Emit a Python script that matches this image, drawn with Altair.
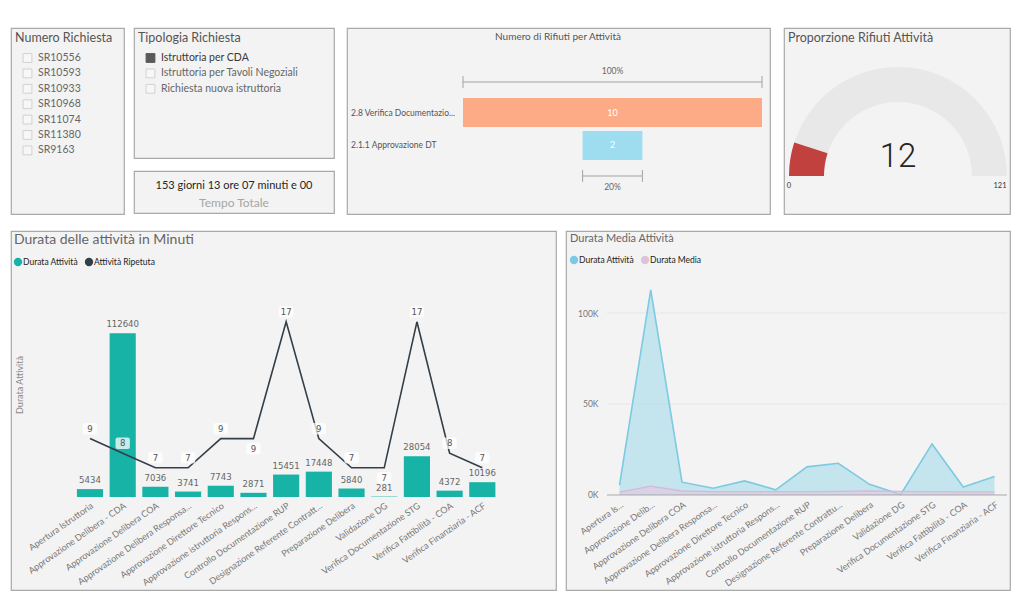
import math
import altair as alt
import pandas as pd

# ---------------- data ----------------
numero_richiesta = ["SR10556", "SR10593", "SR10933", "SR10968", "SR11074", "SR11380", "SR9163"]
tipologia = ["Istruttoria per CDA", "Istruttoria per Tavoli Negoziali", "Richiesta nuova istruttoria"]
tipologia_sel = [True, False, False]
tempo_totale = "153 giorni 13 ore 07 minuti e 00"
tempo_label = "Tempo Totale"

funnel_cat = ["2.8 Verifica Documentazio...", "2.1.1 Approvazione DT"]
funnel_val = [10, 2]
funnel_col = ["#fdaa86", "#9edcf0"]

gauge_val = 12
gauge_max = 121

activities = [
    "Apertura Istruttoria", "Approvazione Delibera - CDA", "Approvazione Delibera COA",
    "Approvazione Delibera Responsa...", "Approvazione Direttore Tecnico",
    "Approvazione istruttoria Respons...", "Controllo Documentazione RUP",
    "Designazione Referente Contratt...", "Preparazione Delibera", "Validazione DG",
    "Verifica Documentazione STG", "Verifica Fattibilità - COA", "Verifica Finanziaria - ACF",
]
activities_short = [
    "Apertura Is...", "Approvazione Delib...", "Approvazione Delibera COA",
    "Approvazione Delibera Responsa...", "Approvazione Direttore Tecnico",
    "Approvazione istruttoria Respons...", "Controllo Documentazione RUP",
    "Designazione Referente Contrattu...", "Preparazione Delibera", "Validazione DG",
    "Verifica Documentazione STG", "Verifica Fattibilità - COA", "Verifica Finanziaria - ACF",
]
durata = [5434, 112640, 7036, 3741, 7743, 2871, 15451, 17448, 5840, 281, 28054, 4372, 10196]
ripetuta = [9, 8, 7, 7, 9, 9, 17, 9, 7, 7, 17, 8, 7]
durata_media = [1600, 4900, 2200, 1800, 1800, 1800, 1900, 2000, 2300, 2000, 1800, 1700, 1700]
labels_below = ["Approvazione istruttoria Respons...", "Validazione DG"]

legend5 = ["Durata Attività", "Attività Ripetuta"]
legend5_col = ["#17b3a6", "#333f48"]
legend6 = ["Durata Attività", "Durata Media"]
legend6_col = ["#7ccae2", "#dcc3dc"]

# ---------------- style ----------------
UI = "Segoe UI, Lato, sans-serif"
NUM = "DIN, DejaVu Sans Condensed, Roboto Condensed, Roboto, sans-serif"
VIEWBG = alt.ViewBackground(fill="#f3f3f3", stroke="#a9a9a9", strokeWidth=1.2)
PILL = ("M -0.85 -0.95 H 0.85 Q 1.2 -0.95 1.2 -0.6 V 0.6 Q 1.2 0.95 0.85 0.95 "
        "H -0.85 Q -1.2 0.95 -1.2 0.6 V -0.6 Q -1.2 -0.95 -0.85 -0.95 Z")


def txt(s, x, y, size, color="#555", align="left", font=UI, weight="normal", angle=None):
    kw = dict(align=align, baseline="middle", fontSize=size, color=color, font=font, fontWeight=weight)
    if angle is not None:
        kw["angle"] = angle
    return alt.Chart(pd.DataFrame({"t": [s]})).mark_text(**kw).encode(
        x=alt.value(x), y=alt.value(y), text="t:N")


STEP = 15.4


def list_scale(h, first=30):
    return alt.Scale(domain=[-first / STEP, (h - first) / STEP], reverse=True, nice=False, zero=False)


def slicer(title, items, sel, w, h):
    df = pd.DataFrame({"item": items, "idx": list(range(len(items))), "sel": sel})
    base = alt.Chart(df).encode(y=alt.Y("idx:Q", scale=list_scale(h), axis=None))
    boxes = base.mark_square(size=78, strokeWidth=1).encode(
        x=alt.value(16.5),
        fill=alt.condition("datum.sel", alt.value("#1a1a1a"), alt.value("#f9f9f9")),
        stroke=alt.condition("datum.sel", alt.value("#1a1a1a"), alt.value("#c4c4c4")),
    )
    labels = base.mark_text(align="left", baseline="middle", fontSize=10.5, font=UI).encode(
        x=alt.value(27), text="item:N",
        color=alt.condition("datum.sel", alt.value("#3a3a3a"), alt.value("#666")),
    )
    return alt.layer(txt(title, 4, 10, 12.5, "#555"), boxes, labels).properties(
        width=w, height=h, view=VIEWBG)


# Panel 1 & 2
p1 = slicer("Numero Richiesta", numero_richiesta, [False] * len(numero_richiesta), 113, 186)
p2 = slicer("Tipologia Richiesta", tipologia, tipologia_sel, 200, 130)
card = alt.layer(
    txt(tempo_totale, 100, 15, 11, "#252525", "center"),
    txt(tempo_label, 100, 32, 12, "#a6a6a6", "center"),
).properties(width=200, height=42, view=VIEWBG)

# Panel 3: funnel
fdf = pd.DataFrame({"cat": funnel_cat, "val": funnel_val, "col": funnel_col,
                    "idx": list(range(len(funnel_cat)))})
fdf["lo"] = -fdf["val"] / 2
fdf["hi"] = fdf["val"] / 2
fdf["b0"] = fdf["idx"] - 0.44
fdf["b1"] = fdf["idx"] + 0.44
fdf["mid"] = 0.0
fx = alt.Scale(domain=[-8.88, 5.268], nice=False, zero=False)
fy = alt.Scale(domain=[-2.561, 3.076], reverse=True, nice=False, zero=False)
v0, vl, last = funnel_val[0], funnel_val[-1], len(funnel_val) - 1
br = pd.DataFrame({
    "lo": [-v0 / 2, -vl / 2], "hi": [v0 / 2, vl / 2],
    "y": [-0.924, last + 0.924], "ty": [-1.258, last + 1.258],
    "mid": [0.0, 0.0],
    "pct": ["100%", f"{round(vl / v0 * 100)}%"],
})
fbars = alt.Chart(fdf).mark_bar().encode(
    x=alt.X("lo:Q", scale=fx, axis=None), x2="hi:Q",
    y=alt.Y("b0:Q", scale=fy, axis=None), y2="b1:Q",
    color=alt.Color("col:N", scale=None))
fvals = alt.Chart(fdf).mark_text(color="white", fontSize=9, font=UI).encode(
    x=alt.X("mid:Q", scale=fx, axis=None), y=alt.Y("idx:Q", scale=fy, axis=None), text="val:Q")
fcats = alt.Chart(fdf).mark_text(align="left", fontSize=8.5, color="#555", font=UI).encode(
    x=alt.value(4), y=alt.Y("idx:Q", scale=fy, axis=None), text="cat:N")
brb = alt.Chart(br).transform_calculate(t0="datum.y - 0.18", t1="datum.y + 0.18")
bh = brb.mark_rule(color="#a3a3a3", strokeWidth=1).encode(
    x=alt.X("lo:Q", scale=fx, axis=None), x2="hi:Q", y=alt.Y("y:Q", scale=fy, axis=None))
bt0 = brb.mark_rule(color="#a3a3a3", strokeWidth=1).encode(
    x=alt.X("lo:Q", scale=fx, axis=None), y=alt.Y("t0:Q", scale=fy, axis=None), y2="t1:Q")
bt1 = brb.mark_rule(color="#a3a3a3", strokeWidth=1).encode(
    x=alt.X("hi:Q", scale=fx, axis=None), y=alt.Y("t0:Q", scale=fy, axis=None), y2="t1:Q")
bpct = brb.mark_text(fontSize=8.5, color="#666", font=UI).encode(
    x=alt.X("mid:Q", scale=fx, axis=None), y=alt.Y("ty:Q", scale=fy, axis=None), text="pct:N")
p3 = alt.layer(
    txt("Numero di Rifiuti per Attività", 211, 9, 10, "#555", "center"),
    fbars, fvals, fcats, bh, bt0, bt1, bpct,
).properties(width=423, height=186, view=VIEWBG)

# Panel 4: gauge
gdf = pd.DataFrame({"start": [0, 0], "end": [gauge_max, gauge_val], "col": ["#e8e8e8", "#c0413e"]})
tsc = alt.Scale(domain=[0, gauge_max], range=[1.5 * math.pi, 2.5 * math.pi])
garc = alt.Chart(gdf).mark_arc(radius=109, radius2=74).encode(
    theta=alt.Theta("start:Q", stack=None, scale=tsc), theta2="end:Q",
    x=alt.value(114), y=alt.value(148), color=alt.Color("col:N", scale=None))
p4 = alt.layer(
    txt("Proporzione Rifiuti Attività", 4, 10, 12.5, "#555"),
    garc,
    txt(str(gauge_val), 114, 129, 33, "#252525", "center", "Roboto", 300),
    txt("0", 5, 158, 7.5, "#333", "center"),
    txt(str(gauge_max), 216, 158, 7.5, "#333", "center"),
).properties(width=226, height=186, view=VIEWBG)

# Panel 5: bars + line
df = pd.DataFrame({"attivita": activities, "etichetta": activities_short, "durata": durata,
                   "ripetuta": ripetuta, "media": durata_media})
df["lab_y"] = [r - 0.68 if a in labels_below else r + 0.68 for a, r in zip(activities, ripetuta)]

X5 = alt.X("attivita:N", sort=activities,
           scale=alt.Scale(range=[62.65, 487.65], paddingInner=0.2, paddingOuter=0.1),
           axis=alt.Axis(orient="bottom", offset=-93, labelAngle=325, labelAlign="right",
                         labelBaseline="top", domain=False, ticks=False, labelPadding=4,
                         labelFontSize=9, labelColor="#777", labelFont=UI, title=None,
                         labelLimit=300))
ybar = alt.Scale(domain=[-64005, 183070], nice=False, zero=False)
yline = alt.Scale(domain=[-1.37, 23.22], nice=False, zero=False)

b5 = alt.Chart(df).mark_bar(color="#17b3a6").encode(
    x=X5, y=alt.Y("durata:Q", scale=ybar, axis=None), y2=alt.Y2(datum=0))
b5l = alt.Chart(df).mark_text(dy=-9, fontSize=9.5, color="#666", font=NUM).encode(
    x=X5, y=alt.Y("durata:Q", scale=ybar, axis=None), text="durata:Q")
l5 = alt.Chart(df).mark_line(color="#333f48", strokeWidth=1.6).encode(
    x=X5, y=alt.Y("ripetuta:Q", scale=yline, axis=None))
l5bg = alt.Chart(df).mark_point(shape=PILL, filled=True, size=144, color="white", opacity=0.75).encode(
    x=X5, y=alt.Y("lab_y:Q", scale=yline, axis=None))
l5t = alt.Chart(df).mark_text(fontSize=9.5, color="#555", font=NUM).encode(
    x=X5, y=alt.Y("lab_y:Q", scale=yline, axis=None), text="ripetuta:Q")

leg5 = pd.DataFrame({"name": legend5, "col": legend5_col, "px": [7, 78]})
leg5_dots = alt.Chart(leg5).mark_point(shape="circle", filled=True, size=70, opacity=1).encode(
    x=alt.X("px:Q", scale=alt.Scale(domain=[0, 545], range=[0, 545]), axis=None),
    y=alt.value(31), color=alt.Color("col:N", scale=None))
leg5_txt = alt.Chart(leg5).transform_calculate(tx="datum.px + 5").mark_text(
    align="left", fontSize=8.5, color="#222", font=UI).encode(
    x=alt.X("tx:Q", scale=alt.Scale(domain=[0, 545], range=[0, 545]), axis=None),
    y=alt.value(31), text="name:N")

p5 = alt.layer(
    txt("Durata delle attività in Minuti", 3, 9, 14, "#666"),
    txt("Durata Attività", 9, 154, 9, "#8a8a8a", "center", angle=270),
    b5, b5l, l5, l5bg, l5t,
).resolve_scale(y="independent")
p5 = alt.layer(p5, leg5_dots, leg5_txt).resolve_scale(x="independent", y="independent").properties(
    width=545, height=359, view=VIEWBG)

# Panel 6: area chart
X6 = alt.X("etichetta:N", sort=activities_short,
           scale=alt.Scale(type="point", range=[41, 441], padding=0.4),
           axis=alt.Axis(orient="bottom", offset=-95, labelAngle=325, labelAlign="right",
                         labelBaseline="top", domain=False, ticks=False, labelPadding=5,
                         labelFontSize=9, labelColor="#777", labelFont=UI, title=None,
                         labelLimit=300))
y6 = alt.Scale(domain=[-52198, 145055], nice=False, zero=False)
Y6AX = alt.Axis(values=[0, 50000, 100000], labelExpr="datum.value / 1000 + 'K'", offset=-34,
                domain=False, ticks=False, grid=False, labelPadding=2, labelFontSize=8.5,
                labelColor="#777", labelFont=UI, title=None)
grid_df = pd.DataFrame({"v": [0, 50000, 100000]})
grid6 = alt.Chart(grid_df).transform_filter("datum.v != 0").mark_rule(color="#e7e7e7", strokeWidth=1).encode(
    x=alt.value(41), x2=alt.value(441), y=alt.Y("v:Q", scale=y6, axis=Y6AX))
zero6 = alt.Chart(grid_df).transform_filter("datum.v == 0").mark_rule(color="#a8a8a8", strokeWidth=1).encode(
    x=alt.value(41), x2=alt.value(441), y=alt.Y("v:Q", scale=y6, axis=Y6AX))
a6 = alt.Chart(df).mark_area(color="#9fd9ea", opacity=0.55).encode(
    x=X6, y=alt.Y("durata:Q", scale=y6, axis=Y6AX), y2=alt.Y2(datum=0))
a6l = alt.Chart(df).mark_line(color="#7ccae2", strokeWidth=1.6).encode(
    x=X6, y=alt.Y("durata:Q", scale=y6, axis=Y6AX))
m6 = alt.Chart(df).mark_area(color="#e2c4e0", opacity=0.6).encode(
    x=X6, y=alt.Y("media:Q", scale=y6, axis=Y6AX), y2=alt.Y2(datum=0))
m6l = alt.Chart(df).mark_line(color="#d7b8d6", strokeWidth=1.3).encode(
    x=X6, y=alt.Y("media:Q", scale=y6, axis=Y6AX))

leg6 = pd.DataFrame({"name": legend6, "col": legend6_col, "px": [8, 79]})
leg6_dots = alt.Chart(leg6).mark_point(shape="circle", filled=True, size=70, opacity=1).encode(
    x=alt.X("px:Q", scale=alt.Scale(domain=[0, 444], range=[0, 444]), axis=None),
    y=alt.value(29), color=alt.Color("col:N", scale=None))
leg6_txt = alt.Chart(leg6).transform_calculate(tx="datum.px + 5").mark_text(
    align="left", fontSize=8.5, color="#222", font=UI).encode(
    x=alt.X("tx:Q", scale=alt.Scale(domain=[0, 444], range=[0, 444]), axis=None),
    y=alt.value(29), text="name:N")

p6 = alt.layer(
    txt("Durata Media Attività", 4, 8, 11, "#666"),
    grid6, a6, a6l, m6, m6l, zero6,
)
p6 = alt.layer(p6, leg6_dots, leg6_txt).resolve_scale(x="independent", y="independent").properties(
    width=444, height=359, view=VIEWBG)

# ---------------- layout ----------------
col2 = alt.vconcat(p2, card, spacing=11)
left_top = alt.hconcat(p1, col2, spacing=8)
right_top = alt.hconcat(p3, p4, spacing=12)
row1 = alt.hconcat(left_top, right_top, spacing=11)
row2 = alt.hconcat(p5, p6, spacing=8)

chart = alt.vconcat(row1, row2, spacing=15).properties(
    padding={"left": 2, "top": 19, "right": 0, "bottom": 0},
    background="white",
)

chart.save("out.html", embed_options={"renderer": "svg", "actions": False})
